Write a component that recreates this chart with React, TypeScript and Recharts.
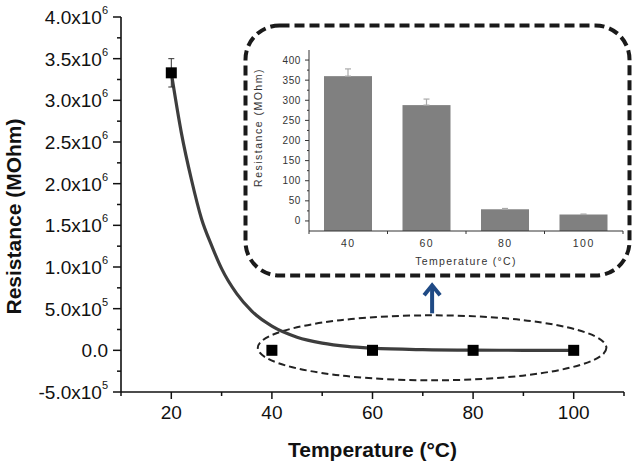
import {
  ComposedChart,
  Line,
  Scatter,
  ErrorBar,
  XAxis,
  YAxis,
  ReferenceArea,
  BarChart,
  Bar,
} from 'recharts'

const FONT = 'Arial, "Liberation Sans", sans-serif'
const INK = '#111'
const CURVE = '#3d3d3d'
const BAR = '#808080'
const ARROW = '#1f4a85'

// measured points (main plot)
const TEMPS = [20, 40, 60, 80, 100]
const RESIST = [3330000, 360, 288, 29, 16]
const RESIST_ERR = [170000, 18, 15, 2, 1]

// decay fit
const FIT_T = [20, 22, 24, 26, 28, 30, 33, 36, 40, 45, 50, 55, 60, 70, 80, 90, 100]
const FIT_R = [
  3330000, 2610000, 2050000, 1580000, 1260000, 980000, 680000, 470000, 290000,
  158000, 87000, 47000, 26000, 8000, 2000, 500, 0,
]

const MAIN_X_TICKS = [10, 20, 30, 40, 50, 60, 70, 80, 90, 100, 110]
const MAIN_Y_TICKS = [
  -500000, -250000, 0, 250000, 500000, 750000, 1000000, 1250000, 1500000, 1750000,
  2000000, 2250000, 2500000, 2750000, 3000000, 3250000, 3500000, 3750000, 4000000,
]

// inset bar chart
const INSET_T = ['40', '60', '80', '100']
const INSET_R = [360, 288, 29, 16]
const INSET_ERR = [18, 15, 2, 1]
const INSET_Y_TICKS = [0, 25, 50, 75, 100, 125, 150, 175, 200, 225, 250, 275, 300, 325, 350, 375, 400]

// dashed ellipse round the low-resistance points (data units)
const LASSO = { x1: 37.2, x2: 106.5, y1: -360000, y2: 420000 }

const points = TEMPS.map((t, i) => ({ t, r: RESIST[i], err: RESIST_ERR[i] }))
const fit = FIT_T.map((t, i) => ({ t, r: FIT_R[i] }))
const insetRows = INSET_T.map((t, i) => ({ t, r: INSET_R[i], err: [0, INSET_ERR[i]] }))

function sciLabel(v: number) {
  if (v === 0) return { m: '0.0', e: '' }
  const e = Math.floor(Math.log10(Math.abs(v)))
  return { m: (v / 10 ** e).toFixed(1) + 'x10', e: String(e) }
}

function MainYTick({ x, y, payload }: any) {
  const v = payload.value
  const major = v % 500000 === 0
  const { m, e } = sciLabel(v)
  return (
    <g>
      <line x1={x} x2={x - (major ? 8 : 4)} y1={y} y2={y} stroke={INK} strokeWidth={1.5} />
      {major && (
        <text x={x - 13} y={y + 7} textAnchor="end" fontSize={19} fill={INK} fontFamily={FONT}>
          <tspan>{m}</tspan>
          {e && (
            <tspan dy={-10} fontSize={11}>
              {e}
            </tspan>
          )}
        </text>
      )}
    </g>
  )
}

function MainXTick({ x, y, payload }: any) {
  const major = payload.value % 20 === 0
  return (
    <g>
      <line x1={x} x2={x} y1={y} y2={y + (major ? 7 : 4)} stroke={INK} strokeWidth={1.5} />
      {major && (
        <text x={x} y={y + 27} textAnchor="middle" fontSize={19} fill={INK} fontFamily={FONT}>
          {payload.value}
        </text>
      )}
    </g>
  )
}

const MainXTitle = ({ viewBox }: any) => (
  <text
    x={viewBox.x + viewBox.width / 2}
    y={viewBox.y + 65}
    textAnchor="middle"
    fontSize={21}
    fontWeight="bold"
    fontFamily={FONT}
    fill={INK}
  >
    Temperature (°C)
  </text>
)

const MainYTitle = ({ viewBox }: any) => {
  const cx = viewBox.x + 21
  const cy = viewBox.y + viewBox.height / 2 + 12
  return (
    <text
      x={cx}
      y={cy}
      transform={`rotate(-90 ${cx} ${cy})`}
      textAnchor="middle"
      fontSize={21}
      fontWeight="bold"
      fontFamily={FONT}
      fill={INK}
    >
      Resistance (MOhm)
    </text>
  )
}

const Square = (p: any) => <rect x={p.cx - 5.5} y={p.cy - 5.5} width={11} height={11} fill="#000" />

// ellipse plus the arrow pointing up to the inset
const Lasso = (p: any) => {
  const cx = p.x + p.width / 2
  const cy = p.y + p.height / 2
  return (
    <g>
      <ellipse
        cx={cx}
        cy={cy}
        rx={p.width / 2}
        ry={p.height / 2}
        fill="none"
        stroke="#222"
        strokeWidth={2}
        strokeDasharray="7 4"
      />
      <line x1={cx} x2={cx} y1={p.y - 2} y2={p.y - 29} stroke={ARROW} strokeWidth={4} />
      <polyline
        points={`${cx - 8},${p.y - 20} ${cx},${p.y - 30} ${cx + 8},${p.y - 20}`}
        fill="none"
        stroke={ARROW}
        strokeWidth={4}
      />
    </g>
  )
}

function InsetYTick({ x, y, payload }: any) {
  const major = payload.value % 50 === 0
  return (
    <g>
      <line x1={x} x2={x - (major ? 4 : 2)} y1={y} y2={y} stroke="#333" strokeWidth={1} />
      {major && (
        <text
          x={x - 8}
          y={y + 3.5}
          textAnchor="end"
          fontSize={10}
          letterSpacing={0.6}
          fill="#333"
          fontFamily={FONT}
        >
          {payload.value}
        </text>
      )}
    </g>
  )
}

function InsetXTick({ x, y, payload, index }: any) {
  const half = payload.offset || 0
  return (
    <g>
      {half > 0 && <line x1={x - half} x2={x - half} y1={y} y2={y + 3} stroke="#333" />}
      {half > 0 && index === INSET_T.length - 1 && (
        <line x1={x + half} x2={x + half} y1={y} y2={y + 3} stroke="#333" />
      )}
      <text
        x={x}
        y={y + 16}
        textAnchor="middle"
        fontSize={10.5}
        letterSpacing={1.5}
        fill="#333"
        fontFamily={FONT}
      >
        {payload.value}
      </text>
    </g>
  )
}

const InsetXTitle = ({ viewBox }: any) => (
  <text
    x={viewBox.x + viewBox.width / 2}
    y={viewBox.y + 34}
    textAnchor="middle"
    fontSize={10.5}
    letterSpacing={1.3}
    fill="#333"
    fontFamily={FONT}
  >
    Temperature (°C)
  </text>
)

const InsetYTitle = ({ viewBox }: any) => {
  const cx = viewBox.x + 17
  const cy = viewBox.y + viewBox.height / 2 - 13
  return (
    <text
      x={cx}
      y={cy}
      transform={`rotate(-90 ${cx} ${cy})`}
      textAnchor="middle"
      fontSize={10.5}
      letterSpacing={1.5}
      fill="#333"
      fontFamily={FONT}
    >
      Resistance (MOhm)
    </text>
  )
}

// bars in the inset are drawn down to the axis line, not to zero
const FloorBar = (p: any) => {
  const bg = p.background
  const bottom = bg ? bg.y + bg.height : p.y + p.height
  return <rect x={p.x} y={p.y} width={p.width} height={bottom - p.y} fill={BAR} />
}

export default function App() {
  return (
    <div style={{ position: 'absolute', left: 0, top: 0, width: 638, height: 465, background: '#fff' }}>
      <ComposedChart width={638} height={465} margin={{ top: 17, right: 14, bottom: 0, left: 0 }}>
        <XAxis
          type="number"
          dataKey="t"
          domain={[10, 110]}
          ticks={MAIN_X_TICKS}
          interval={0}
          allowDataOverflow
          height={73}
          tickLine={false}
          tickSize={0}
          tickMargin={0}
          tick={<MainXTick />}
          axisLine={{ stroke: INK, strokeWidth: 1.6 }}
          label={{ content: MainXTitle }}
        />
        <YAxis
          type="number"
          domain={[-500000, 4000000]}
          ticks={MAIN_Y_TICKS}
          interval={0}
          allowDataOverflow
          width={121}
          tickLine={false}
          tickSize={0}
          tickMargin={0}
          tick={<MainYTick />}
          axisLine={{ stroke: INK, strokeWidth: 1.6 }}
          label={{ content: MainYTitle }}
        />
        <ReferenceArea {...LASSO} shape={Lasso} ifOverflow="visible" />
        <Line
          data={fit}
          dataKey="r"
          type="monotone"
          stroke={CURVE}
          strokeWidth={3.2}
          dot={false}
          isAnimationActive={false}
        />
        <Scatter data={points} dataKey="r" shape={Square} isAnimationActive={false}>
          <ErrorBar dataKey="err" direction="y" width={3} stroke="#333" strokeWidth={1} />
        </Scatter>
      </ComposedChart>

      <svg width={638} height={465} style={{ position: 'absolute', left: 0, top: 0, pointerEvents: 'none' }}>
        <rect
          x={245.5}
          y={25.5}
          width={384}
          height={250}
          rx={34}
          fill="none"
          stroke="#1a1a1a"
          strokeWidth={4}
          strokeDasharray="10 5"
        />
      </svg>

      <div style={{ position: 'absolute', left: 245, top: 25 }}>
        <BarChart
          width={385}
          height={252}
          data={insetRows}
          margin={{ top: 25, right: 7, bottom: 0, left: 0 }}
          barSize={48}
        >
          <XAxis
            dataKey="t"
            height={46}
            interval={0}
            tickLine={false}
            tickSize={0}
            tickMargin={0}
            tick={<InsetXTick />}
            axisLine={{ stroke: '#333' }}
            label={{ content: InsetXTitle }}
          />
          <YAxis
            type="number"
            domain={[-25, 425]}
            ticks={INSET_Y_TICKS}
            interval={0}
            width={64}
            tickLine={false}
            tickSize={0}
            tickMargin={0}
            tick={<InsetYTick />}
            axisLine={{ stroke: '#333' }}
            label={{ content: InsetYTitle }}
          />
          <Bar dataKey="r" fill={BAR} shape={FloorBar} isAnimationActive={false}>
            <ErrorBar dataKey="err" direction="y" width={3} stroke="#aaa" strokeWidth={1.2} />
          </Bar>
        </BarChart>
      </div>
    </div>
  )
}
